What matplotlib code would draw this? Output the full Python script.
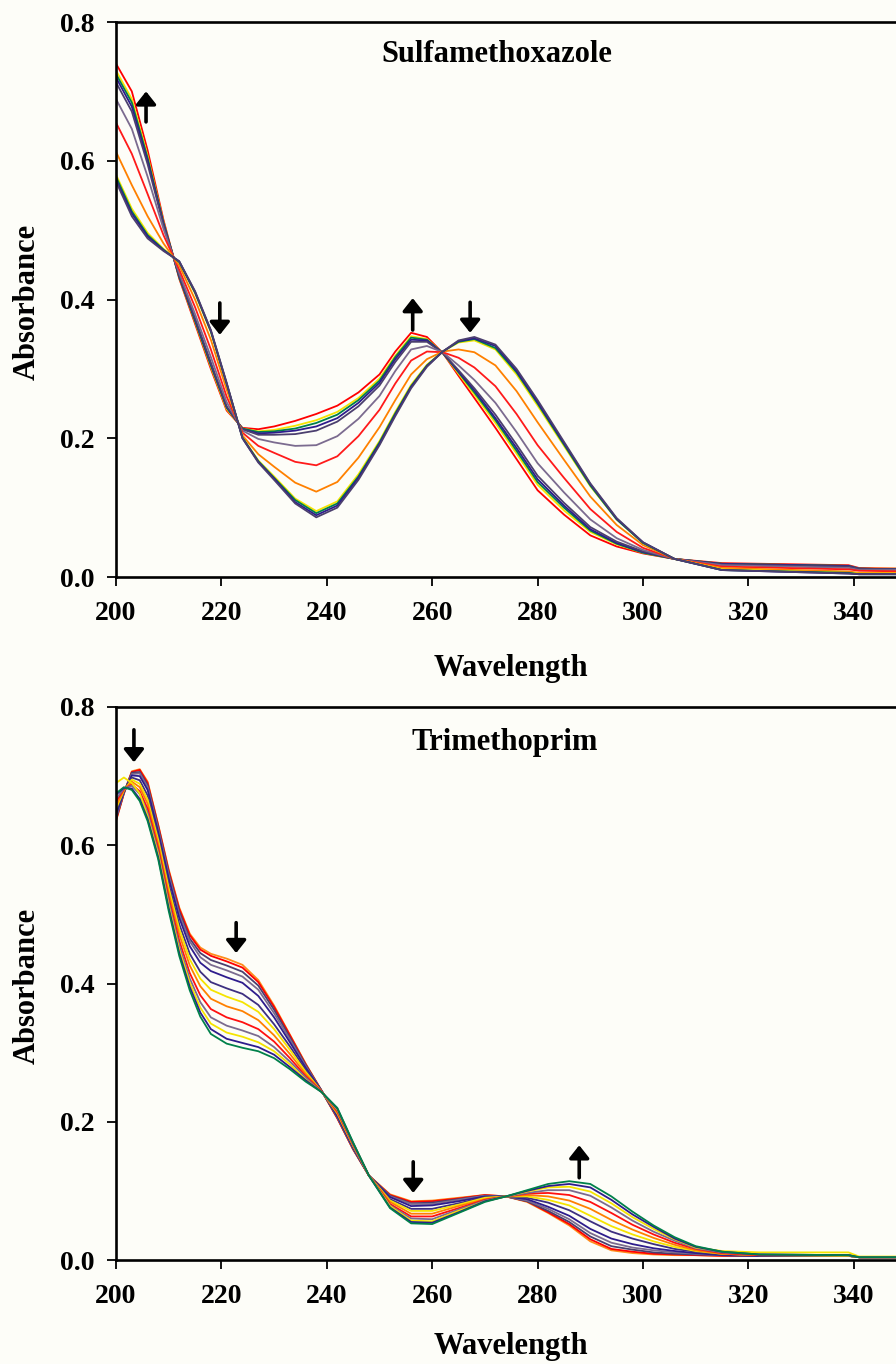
import matplotlib
matplotlib.use('Agg')
import matplotlib.pyplot as plt

plt.rcParams['font.family'] = ['Liberation Serif', 'DejaVu Serif']
plt.rcParams['font.weight'] = 'bold'

# ---------------- data: Sulfamethoxazole ----------------
wl_smx = [200, 203, 206, 209, 212, 215, 218, 221, 224, 227, 230, 234, 238, 242, 246,
          250, 253, 256, 259, 262, 265, 268, 272, 276, 280, 285, 290, 295, 300, 306,
          315, 339, 341, 350]
smx_curves = [
    [.740, .700, .615, .515, .430, .365, .300, .240, .215, .213, .217, .225, .235, .247, .266, .292, .325, .352, .346, .323, .290, .258, .215, .170, .125, .090, .060, .044, .034, .026, .020, .017, .013, .012],
    [.730, .689, .607, .512, .432, .368, .303, .242, .214, .210, .212, .218, .226, .238, .258, .286, .319, .347, .343, .323, .293, .263, .222, .178, .133, .096, .065, .047, .035, .026, .019, .016, .012, .012],
    [.725, .684, .604, .511, .432, .369, .305, .244, .214, .209, .210, .214, .222, .234, .255, .283, .317, .345, .342, .323, .295, .266, .226, .182, .137, .100, .067, .048, .035, .026, .019, .016, .012, .011],
    [.720, .678, .600, .510, .433, .371, .307, .245, .213, .207, .208, .211, .217, .229, .251, .280, .314, .342, .341, .323, .296, .269, .229, .186, .141, .103, .069, .049, .036, .026, .019, .016, .012, .011],
    [.713, .671, .595, .508, .434, .373, .309, .246, .213, .205, .205, .206, .211, .224, .246, .276, .310, .339, .339, .323, .298, .272, .234, .191, .146, .107, .072, .051, .037, .026, .018, .015, .012, .011],
    [.689, .646, .577, .502, .438, .379, .317, .252, .211, .199, .194, .189, .190, .203, .228, .261, .297, .328, .333, .324, .305, .284, .251, .209, .164, .122, .083, .056, .039, .026, .017, .013, .010, .010],
    [.655, .610, .552, .493, .443, .389, .328, .260, .208, .189, .179, .166, .161, .174, .203, .241, .279, .312, .325, .324, .316, .302, .275, .235, .190, .143, .098, .065, .042, .026, .015, .011, .009, .008],
    [.613, .565, .520, .481, .449, .400, .342, .270, .204, .177, .159, .136, .123, .137, .172, .216, .255, .292, .314, .325, .328, .324, .305, .268, .223, .169, .116, .075, .046, .026, .013, .008, .006, .006],
    [.580, .531, .496, .473, .454, .409, .353, .278, .201, .168, .145, .113, .095, .109, .148, .196, .238, .277, .306, .325, .338, .341, .328, .292, .247, .189, .131, .083, .049, .026, .011, .006, .005, .005],
    [.577, .527, .493, .472, .454, .410, .354, .278, .201, .167, .143, .111, .092, .106, .145, .194, .236, .275, .305, .325, .339, .343, .330, .295, .250, .191, .132, .083, .049, .026, .010, .006, .004, .004],
    [.573, .524, .491, .471, .455, .411, .355, .279, .200, .166, .142, .108, .089, .103, .143, .192, .234, .274, .304, .325, .340, .344, .333, .297, .252, .193, .134, .084, .050, .026, .010, .005, .004, .004],
    [.570, .520, .488, .470, .455, .412, .356, .280, .200, .165, .140, .106, .086, .100, .140, .190, .232, .272, .303, .325, .341, .346, .335, .300, .255, .195, .135, .085, .050, .026, .010, .005, .004, .004],
]
smx_colors = ['#ff0000', '#f5e400', '#00804a', '#2e1c8c', '#4b3f6e', '#7b6b8f',
              '#ff1a1a', '#ff8000', '#f5e400', '#00804a', '#2e1c8c', '#4b3f6e']

# ---------------- data: Trimethoprim ----------------
wl_tmp = [200, 201.5, 203, 204.5, 206, 208, 210, 212, 214, 216, 218, 221, 224, 227, 230,
          233, 236, 239, 242, 245, 248, 252, 256, 260, 265, 270, 274, 278, 282, 286,
          290, 294, 298, 302, 306, 310, 315, 322, 339, 341, 350]
tmp_curves = [
    [.635, .675, .707, .710, .692, .630, .565, .510, .472, .452, .443, .436, .427, .405, .368, .326, .284, .245, .205, .160, .122, .095, .085, .086, .090, .094, .092, .084, .068, .050, .027, .014, .010, .008, .007, .007, .006, .006, .006, .004, .004],
    [.636, .675, .706, .709, .690, .629, .563, .508, .470, .449, .440, .432, .423, .402, .366, .325, .283, .245, .205, .160, .122, .094, .084, .085, .089, .094, .092, .085, .069, .052, .030, .016, .012, .009, .008, .007, .006, .006, .006, .004, .004],
    [.638, .676, .705, .706, .687, .626, .560, .504, .465, .444, .434, .426, .417, .397, .362, .322, .282, .245, .206, .161, .122, .093, .082, .083, .088, .093, .092, .085, .071, .055, .034, .020, .015, .011, .009, .008, .007, .006, .006, .004, .004],
    [.641, .676, .703, .704, .684, .623, .557, .500, .461, .438, .427, .419, .410, .391, .357, .319, .280, .245, .207, .161, .122, .092, .081, .081, .087, .093, .092, .086, .074, .059, .039, .025, .018, .014, .011, .009, .007, .006, .006, .004, .004],
    [.644, .677, .701, .700, .680, .619, .552, .495, .454, .430, .418, .409, .401, .382, .351, .315, .278, .245, .208, .162, .122, .091, .078, .079, .085, .092, .092, .088, .077, .064, .045, .031, .023, .017, .013, .010, .007, .006, .006, .004, .004],
    [.649, .678, .698, .694, .672, .613, .544, .486, .443, .417, .402, .393, .385, .369, .341, .309, .275, .244, .210, .164, .122, .088, .074, .074, .082, .091, .092, .090, .083, .072, .056, .041, .031, .023, .016, .012, .008, .007, .006, .004, .004],
    [.653, .679, .695, .689, .666, .608, .538, .479, .435, .407, .391, .381, .373, .359, .334, .304, .272, .244, .212, .165, .122, .086, .071, .071, .080, .090, .092, .092, .087, .079, .064, .049, .037, .027, .019, .013, .009, .007, .006, .004, .004],
    [.657, .680, .692, .684, .660, .602, .531, .471, .426, .396, .378, .367, .360, .347, .325, .298, .269, .244, .213, .166, .122, .084, .067, .067, .078, .088, .092, .094, .092, .086, .074, .058, .044, .032, .022, .014, .009, .007, .007, .004, .004],
    [.663, .681, .688, .678, .653, .596, .524, .462, .415, .383, .363, .351, .344, .334, .316, .292, .266, .244, .215, .167, .122, .081, .063, .063, .075, .087, .092, .096, .097, .094, .084, .068, .051, .037, .025, .016, .010, .007, .007, .004, .004],
    [.667, .682, .686, .674, .647, .591, .518, .455, .407, .373, .351, .339, .332, .324, .308, .287, .264, .243, .217, .168, .122, .079, .060, .059, .073, .086, .092, .097, .101, .101, .093, .076, .057, .041, .028, .017, .011, .008, .007, .004, .004],
    [.690, .698, .690, .675, .642, .587, .513, .449, .401, .365, .342, .329, .323, .315, .302, .283, .261, .243, .218, .169, .122, .078, .057, .056, .071, .085, .092, .099, .105, .106, .099, .082, .062, .045, .030, .018, .013, .011, .011, .005, .005],
    [.673, .683, .682, .667, .638, .583, .509, .444, .395, .358, .334, .320, .314, .308, .297, .279, .260, .243, .219, .169, .122, .076, .055, .054, .069, .085, .092, .100, .107, .110, .105, .087, .066, .048, .031, .019, .012, .008, .007, .004, .004],
    [.675, .684, .680, .664, .635, .580, .505, .440, .390, .352, .327, .313, .307, .302, .292, .276, .258, .243, .220, .170, .122, .075, .053, .052, .068, .084, .092, .101, .110, .114, .110, .092, .070, .050, .033, .020, .012, .008, .007, .004, .004],
]
tmp_colors = ['#ff8c1a', '#ff0000', '#4b3f6e', '#7b6b8f', '#2e1c8c', '#3d2f80', '#f5e400',
              '#ff8000', '#ff1010', '#7b6b8f', '#f5e400', '#2e1c8c', '#00804a']

xticks = [200, 220, 240, 260, 280, 300, 320, 340]
yticks = [0.0, 0.2, 0.4, 0.6, 0.8]
ytick_labels = ['0.0', '0.2', '0.4', '0.6', '0.8']

# arrows: (wavelength, tail value, head value)
smx_arrows = [(205.7, 0.656, 0.700), (219.7, 0.395, 0.349), (256.3, 0.356, 0.402), (267.2, 0.396, 0.352)]
tmp_arrows = [(203.4, 0.767, 0.720), (222.8, 0.488, 0.444), (256.4, 0.142, 0.097), (287.9, 0.119, 0.166)]

BG = '#fdfdf8'
W, H = 896, 1364
fig = plt.figure(figsize=(W / 100, H / 100), dpi=100, facecolor=BG)

ax1 = fig.add_axes([116 / W, 1 - 577 / H, 790.5 / W, 555 / H])
ax2 = fig.add_axes([116 / W, 1 - 1260 / H, 790.5 / W, 553 / H])


def style(ax, wl, curves, colors, arrows, title, tx, ty, xl_y):
    ax.set_facecolor(BG)
    for c, col in zip(curves, colors):
        ax.plot(wl, c, color=col, lw=1.3, solid_joinstyle='round')
    ax.set_xlim(200, 350)
    ax.set_ylim(0, 0.8)
    ax.set_xticks(xticks)
    ax.set_yticks(yticks)
    ax.set_yticklabels(ytick_labels)
    ax.tick_params(axis='both', direction='out', length=6.5, width=1.3,
                   labelsize=20)
    ax.tick_params(axis='x', pad=11)
    ax.tick_params(axis='y', pad=9)
    for lab in ax.get_xticklabels() + ax.get_yticklabels():
        lab.set_fontweight('bold')
    for s in ['left', 'bottom', 'top']:
        ax.spines[s].set_linewidth(1.9)
    ax.spines['right'].set_visible(False)
    ax.set_xlabel('Wavelength', fontsize=22, fontweight='bold')
    ax.xaxis.set_label_coords(0.5, xl_y)
    ax.set_ylabel('Absorbance', fontsize=22, fontweight='bold')
    ax.yaxis.set_label_coords(-0.094, 0.495)
    ax.text(tx, ty, title, transform=ax.transAxes, ha='center', va='baseline',
            fontsize=22, fontweight='bold')
    for (x, y0, y1) in arrows:
        ax.annotate('', xy=(x, y1), xytext=(x, y0),
                    arrowprops=dict(arrowstyle='-|>,head_length=0.38,head_width=0.3',
                                    lw=2.6, color='black', mutation_scale=20,
                                    shrinkA=0, shrinkB=0))


style(ax1, wl_smx, smx_curves, smx_colors, smx_arrows, 'Sulfamethoxazole', 0.482, 0.928, -0.138)
style(ax2, wl_tmp, tmp_curves, tmp_colors, tmp_arrows, 'Trimethoprim', 0.492, 0.922, -0.131)

fig.savefig('out.png', dpi=100, facecolor=BG)
